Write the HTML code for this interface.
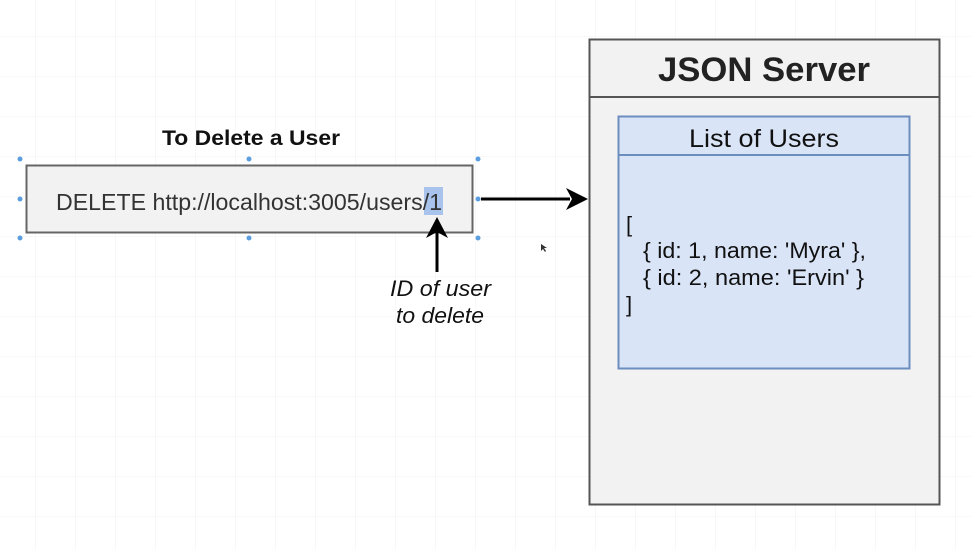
<!DOCTYPE html>
<html><head><meta charset="utf-8"><style>
html,body{margin:0;padding:0;background:#fff}
svg{display:block}
text{font-family:"Liberation Sans",Arial,sans-serif}
</style></head><body>
<svg width="971" height="550" viewBox="0 0 971 550" xmlns="http://www.w3.org/2000/svg">
<defs>
<pattern id="g" width="40" height="40" patternUnits="userSpaceOnUse" x="-4" y="-3">
<path d="M40 0V40M0 40H40" stroke="#f0f0f0" stroke-width="1" fill="none"/>
</pattern>
</defs>
<rect width="971" height="550" fill="url(#g)"/>
<!-- JSON server -->
<rect x="589.5" y="39.5" width="350" height="465" fill="#f2f2f2" stroke="#555" stroke-width="2"/>
<line x1="589" y1="97" x2="940" y2="97" stroke="#555" stroke-width="2"/>
<text x="658" y="81" textLength="212" lengthAdjust="spacingAndGlyphs" font-size="34" font-weight="bold" fill="#222">JSON Server</text>
<rect x="618.5" y="116.5" width="291" height="252" fill="#d9e4f7" stroke="#6c8ebf" stroke-width="2"/>
<line x1="618" y1="155" x2="910" y2="155" stroke="#6c8ebf" stroke-width="2"/>
<text x="689" y="147" textLength="150" lengthAdjust="spacingAndGlyphs" font-size="25" fill="#111">List of Users</text>
<g font-size="22" fill="#111">
<text x="626" y="232">[</text>
<text x="643" y="258" textLength="223" lengthAdjust="spacingAndGlyphs">{ id: 1, name: 'Myra' },</text>
<text x="643" y="285" textLength="221" lengthAdjust="spacingAndGlyphs">{ id: 2, name: 'Ervin' }</text>
<text x="626" y="312">]</text>
</g>
<!-- delete box -->
<text x="162" y="145" textLength="178" lengthAdjust="spacingAndGlyphs" font-size="21" font-weight="bold" fill="#111">To Delete a User</text>
<rect x="26.5" y="165.5" width="446" height="67" fill="#f2f2f2" stroke="#666" stroke-width="2"/>
<rect x="424" y="187" width="19" height="28" fill="#a9c4ec"/>
<text x="56" y="210" textLength="386" lengthAdjust="spacingAndGlyphs" font-size="23" fill="#333">DELETE http://localhost:3005/users/1</text>
<g fill="#5b9ee0">
<circle cx="20" cy="159" r="2.5"/><circle cx="249" cy="159" r="2.5"/><circle cx="478" cy="159" r="2.5"/>
<circle cx="20" cy="199" r="2.5"/><circle cx="478" cy="199" r="2.5"/>
<circle cx="20" cy="238" r="2.5"/><circle cx="249" cy="238" r="2.5"/><circle cx="478" cy="238" r="2.5"/>
</g>
<!-- arrows -->
<line x1="481" y1="199" x2="570" y2="199" stroke="#000" stroke-width="3"/>
<polygon points="588,199 566,188 572,199 566,210" fill="#000"/>
<line x1="437" y1="272" x2="437" y2="232" stroke="#000" stroke-width="3"/>
<polygon points="437,217 426,238 437,232 448,238" fill="#000"/>
<g font-size="22" font-style="italic" fill="#111">
<text x="390" y="296" textLength="101" lengthAdjust="spacingAndGlyphs">ID of user</text>
<text x="396" y="323" textLength="88" lengthAdjust="spacingAndGlyphs">to delete</text>
</g>
<polygon points="541,244 541,251 543,249 545,252 546,251 544,248 547,248" fill="#333"/>
</svg>
</body></html>
